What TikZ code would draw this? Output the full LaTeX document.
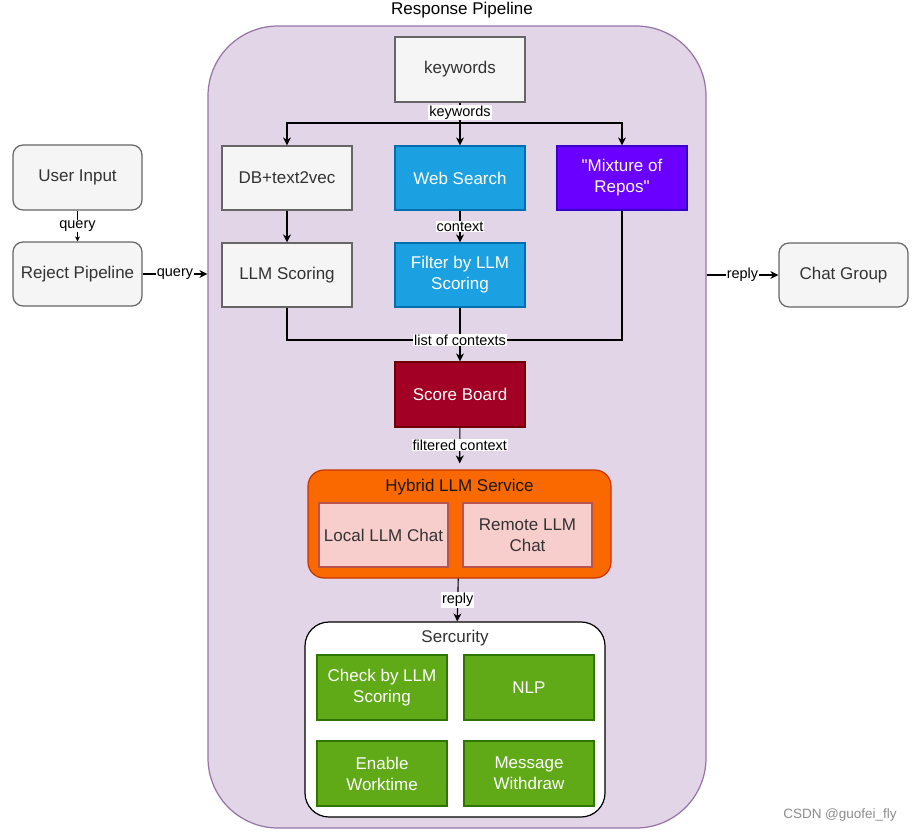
\documentclass[tikz,border=0pt]{standalone}
\usepackage{fontspec}
\setmainfont{Liberation Sans}
\newfontfamily\plainfont{Liberation Sans}
\usetikzlibrary{arrows.meta,calc}
\definecolor{pipefill}{HTML}{E1D5E7}
\definecolor{pipedraw}{HTML}{9673A6}
\definecolor{grayfill}{HTML}{F5F5F5}
\definecolor{graydraw}{HTML}{666666}
\definecolor{graytext}{HTML}{333333}
\definecolor{bluefill}{HTML}{1BA1E2}
\definecolor{bluedraw}{HTML}{006EAF}
\definecolor{violetfill}{HTML}{6A00FF}
\definecolor{violetdraw}{HTML}{3700CC}
\definecolor{redfill}{HTML}{A20025}
\definecolor{reddraw}{HTML}{6F0000}
\definecolor{orangefill}{HTML}{FA6800}
\definecolor{orangedraw}{HTML}{C73500}
\definecolor{pinkfill}{HTML}{F8CECC}
\definecolor{pinkdraw}{HTML}{B85450}
\definecolor{greenfill}{HTML}{60A917}
\definecolor{greendraw}{HTML}{2D7600}
\newcommand{\mainfs}{\fontsize{17}{21}\selectfont}
\newcommand{\lblfs}{\fontsize{14.5}{17}\selectfont}
\tikzset{
  box/.style={draw, line width=1.2pt, minimum width=130pt, minimum height=65pt, align=center, font=\mainfs, inner sep=2pt},
  graybox/.style={box, fill=grayfill, draw=graydraw, text=graytext},
  grayround/.style={graybox, rounded corners=10pt, minimum width=129pt},
  bluebox/.style={box, fill=bluefill, draw=bluedraw, text=white},
  violetbox/.style={box, fill=violetfill, draw=violetdraw, text=white},
  redbox/.style={box, fill=redfill, draw=reddraw, text=white},
  pinkbox/.style={box, fill=pinkfill, draw=pinkdraw, text=graytext, minimum width=129pt, minimum height=64pt},
  greenbox/.style={box, fill=greenfill, draw=greendraw, text=white},
  lbl/.style={fill=white, inner sep=1pt, font=\lblfs, text=black},
  arr/.style={draw=black, line width=1.1pt, -{Stealth[length=8pt,width=8pt,inset=2.5pt]}},
  ln/.style={draw=black, line width=1.1pt},
}
\begin{document}
\begin{tikzpicture}[x=1pt,y=-1pt]
\useasboundingbox (0,0) rectangle (919,833);
% container
\node[draw=pipedraw, fill=pipefill, line width=1.2pt, rounded corners=70pt, minimum width=498pt, minimum height=802pt] (pipe) at (457,427) {};
\node[font=\mainfs, text=black] (pipetitle) at (462,10) {Response Pipeline};

% top row
\node[graybox] (kw) at (460,69.5) {keywords};
\node[graybox, minimum height=64pt] (db) at (287,178) {DB+text2vec};
\node[bluebox, minimum height=64pt] (web) at (460,178) {Web Search};
\node[violetbox, minimum height=64pt, font=\mainfs\plainfont] (mix) at (622,178) {"Mixture of\\Repos"};
\node[graybox, minimum height=64pt] (llms) at (287,275) {LLM Scoring};
\node[bluebox, minimum height=64pt] (filter) at (460,275) {Filter by LLM\\Scoring};
\node[redbox] (score) at (460,394.5) {Score Board};

% hybrid
\node[draw=orangedraw, fill=orangefill, line width=1.2pt, rounded corners=16pt, minimum width=303pt, minimum height=108pt] (hyb) at (459.5,524) {};
\node[font=\mainfs, text=black!90] (hybtitle) at (459.5,487) {Hybrid LLM Service};
\node[pinkbox] (local) at (383.5,535) {Local LLM Chat};
\node[pinkbox] (remote) at (527.5,535) {Remote LLM\\Chat};

% security
\node[draw=black, fill=white, line width=1.2pt, rounded corners=24pt, minimum width=300pt, minimum height=195pt] (sec) at (455,719.5) {};
\node[font=\mainfs, text=graytext] (sectitle) at (455,638) {Sercurity};
\node[greenbox] (check) at (382,687.5) {Check by LLM\\Scoring};
\node[greenbox] (nlp) at (529,687.5) {NLP};
\node[greenbox] (enable) at (382,773.5) {Enable\\Worktime};
\node[greenbox] (msg) at (529,773.5) {Message\\Withdraw};

% outside
\node[grayround] (user) at (77.5,177.5) {User Input};
\node[grayround, minimum height=64pt] (reject) at (77.5,274) {Reject Pipeline};
\node[grayround, minimum height=64pt] (chat) at (843.5,275) {Chat Group};

\node[font=\fontsize{13.5}{16}\selectfont, text=black!45] (csdn) at (840,815) {CSDN @guofei\_fly};

% connectors
\coordinate (split) at (460,123);
\draw[ln] (kw) -- node[lbl, pos=0.48] {keywords} (split);
\draw[arr] (split) -| (db);
\draw[arr] (split) -- (web);
\draw[arr] (split) -| (mix);
\draw[arr] (web) -- node[lbl] {context} (filter);
\draw[arr] (db) -- (llms);
\coordinate (merge) at (460,340);
\draw[ln] (llms) |- (merge);
\draw[ln] (mix) |- (merge);
\draw[arr] (filter) -- (score);
\node[lbl] (listlbl) at (merge) {list of contexts};
\draw[arr, shorten >=6pt] (score) -- node[lbl, pos=0.42] {filtered context} (hyb);
\draw[arr] (hyb) -- node[lbl] {reply} (sec);
\draw[arr, -{Stealth[length=5pt,width=5pt,inset=1.5pt]}] (user) -- node[lbl] {query} (reject);
\draw[arr] (reject) -- node[lbl] {query} (reject -| pipe.west);
\draw[arr] (pipe.east |- chat) -- node[lbl] {reply} (chat);
\end{tikzpicture}
\end{document}
